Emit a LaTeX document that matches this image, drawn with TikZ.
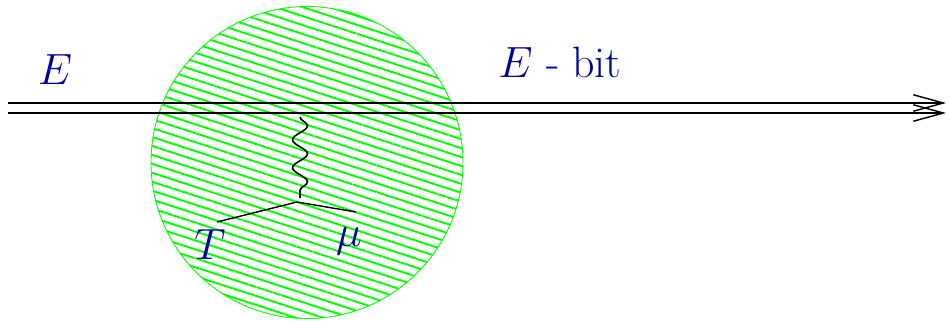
\documentclass[tikz,border=0pt]{standalone}
\usepackage{amsmath,amssymb}
\usepackage{tikz}
\usetikzlibrary{arrows.meta,patterns.meta,decorations.pathmorphing}
\definecolor{labelblue}{RGB}{0,0,160}

\begin{document}
\begin{tikzpicture}[
  >={Straight Barb[length=6mm, width=3.3mm]},
  blob/.style={draw=green, line width=0.5pt, pattern={Lines[angle=-18, distance=0.17cm, line width=1.1pt]}, pattern color=green},
  beam/.style={->, line width=0.8pt},
  leg/.style={line width=0.8pt},
  photon/.style={line width=0.9pt, decorate, decoration={snake, amplitude=0.15cm, segment length=0.56cm}},
  lbl/.style={text=labelblue, font=\fontsize{25}{30}\selectfont, inner sep=0pt}
]
\useasboundingbox (0,0) rectangle (18.98,6.4);
\node[blob, circle, minimum size=6.24cm, inner sep=0pt] (target) at (6.14,3.15) {};

\coordinate (inA) at (0.16,4.34);
\coordinate (outA) at (18.92,4.34);
\coordinate (inB) at (0.16,4.14);
\coordinate (outB) at (18.92,4.14);
\draw[beam] (inA) -- (outA);
\draw[beam] (inB) -- (outB);

\coordinate (gtop) at (6.0,4.06);
\coordinate (gbot) at (6.0,2.44);
\coordinate (vtx) at (5.94,2.36);
\coordinate (tend) at (4.34,1.96);
\coordinate (muend) at (7.12,2.16);
\draw[photon] (gtop) -- (gbot);
\draw[leg] (tend) -- (vtx) -- (muend);

\node[lbl] (ein) at (1.1,5.0) {$E$};
\node[lbl] (eout) at (11.2,5.16) {$E$ - bit};
\node[lbl] (tlbl) at (4.2,1.5) {$T$};
\node[lbl] (mulbl) at (6.98,1.58) {$\mu$};
\end{tikzpicture}
\end{document}
